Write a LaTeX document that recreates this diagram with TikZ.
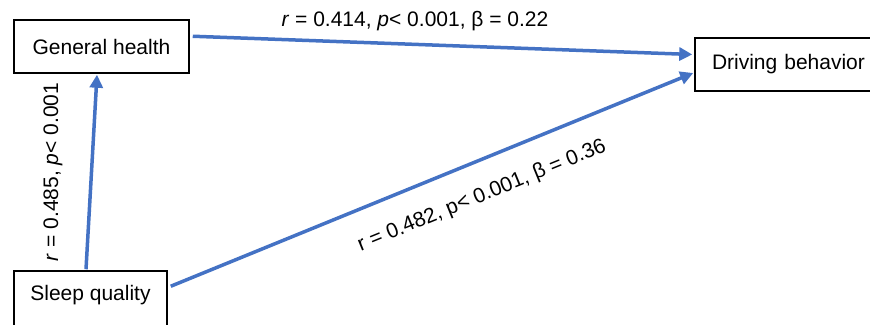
\documentclass[tikz,border=0pt]{standalone}
\usepackage{fontspec}
\setmainfont{Liberation Sans}
\usetikzlibrary{arrows.meta}
\definecolor{lineblue}{RGB}{68,114,196}
\begin{document}
\begin{tikzpicture}[x=1pt,y=-1pt,
  box/.style={draw=black,line width=1.5pt,fill=white,inner sep=0pt,font=\fontsize{21}{25}\selectfont},
  lbl/.style={inner sep=0pt,font=\fontsize{21}{25}\selectfont},
  arr/.style={draw=lineblue,line width=3.5pt,-{Triangle[length=13pt,width=13pt]}}]
\useasboundingbox (0,0) rectangle (870,324);
\clip (0,0) rectangle (870,324);
\node[box,minimum width=175pt,minimum height=53pt] (gh) at (101.5,46.5) {General health};
\node[box,minimum width=182pt,minimum height=53pt,text width=182pt,align=left] (db) at (786,64.5) {\hspace*{17pt}Driving behavior};
\node[box,minimum width=153pt,minimum height=56pt] (sq) at (90.5,299) {};
\node[lbl] (sqt) at (90.5,295) {Sleep quality};
\draw[arr] ([xshift=3pt,yshift=-17pt]gh.north east) -- ([xshift=-2pt,yshift=10pt]db.west);
\draw[arr] ([xshift=3pt,yshift=-16pt]sq.north east) -- ([xshift=-1pt,yshift=-8.5pt]db.west);
\draw[arr] ([xshift=-4.5pt,yshift=1pt]sq.north) -- ([xshift=-4.5pt,yshift=-1pt]gh.south);
\node[lbl] (l1) at (415,21) {\textit{r} = 0.414, \textit{p}< 0.001, β = 0.22};
\node[lbl,rotate=90] (l2) at (53,172) {\textit{r} = 0.485, \textit{p}< 0.001};
\node[lbl,rotate=22.2] (l3) at (482,196) {r = 0.482, p< 0.001, β = 0.36};
\end{tikzpicture}
\end{document}
